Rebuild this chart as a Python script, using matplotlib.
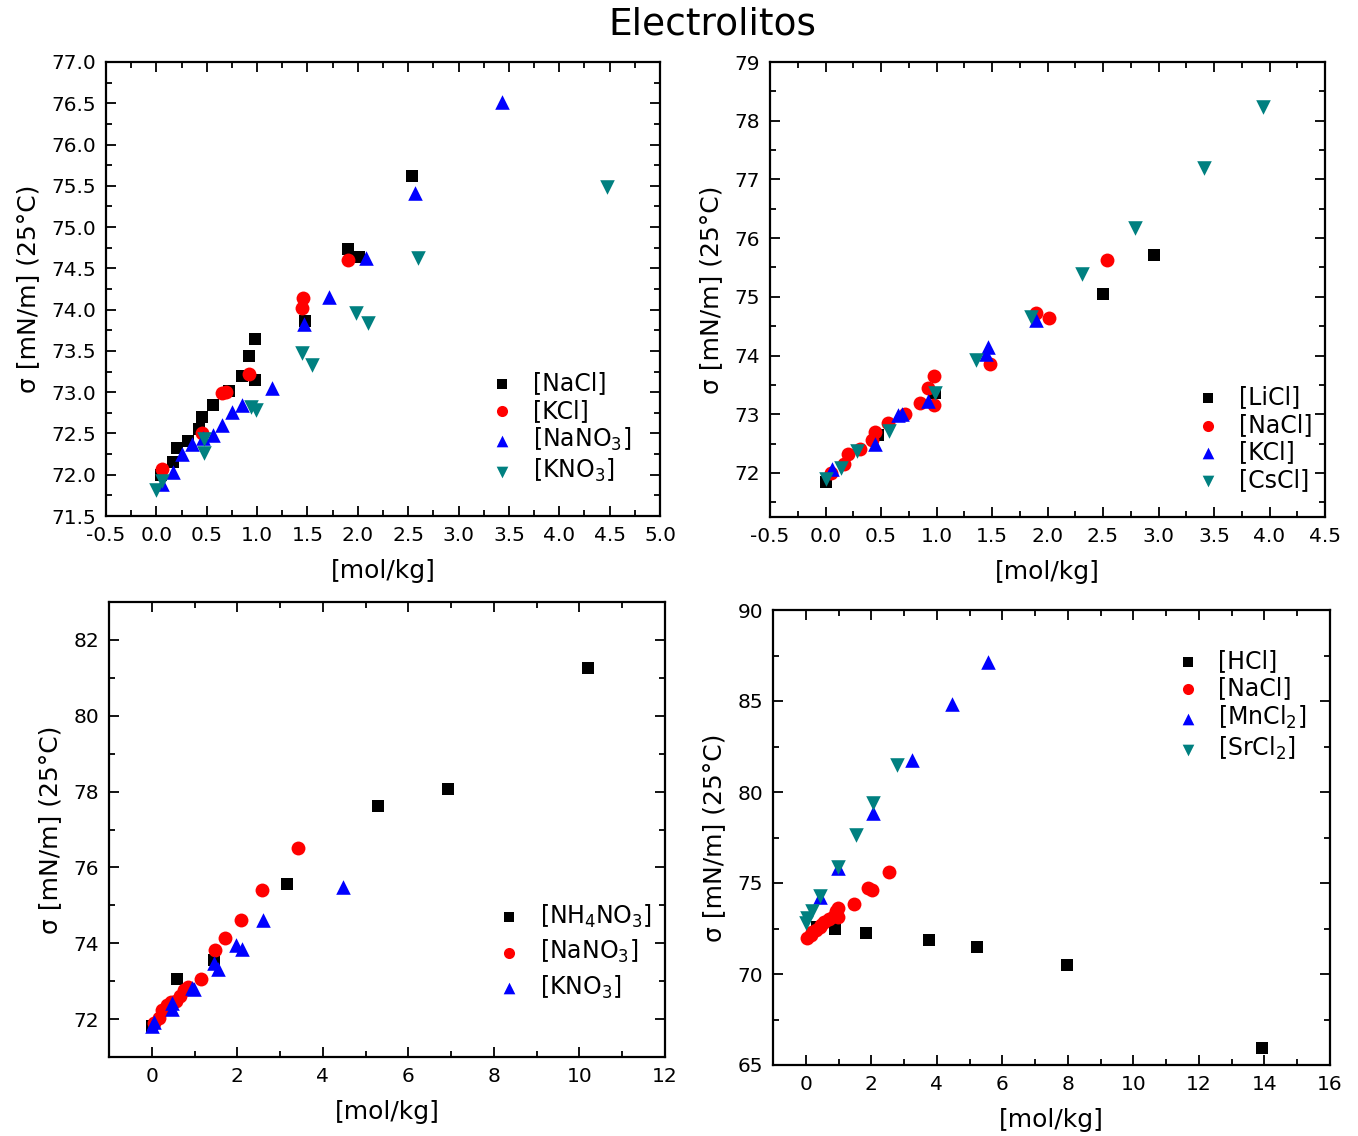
import matplotlib
matplotlib.use("Agg")
import matplotlib.pyplot as plt
from matplotlib.ticker import MultipleLocator

plt.rcParams['font.family'] = ['DejaVu Sans']
plt.rcParams['mathtext.default'] = 'regular'

# ---- data ----
NaCl_x = [0.05, 0.17, 0.20, 0.31, 0.42, 0.45, 0.56, 0.72, 0.85, 0.92, 0.98, 0.98, 1.48, 1.90, 2.01, 2.54]
NaCl_y = [72.00, 72.16, 72.32, 72.41, 72.56, 72.70, 72.85, 73.01, 73.19, 73.44, 73.65, 73.15, 73.86, 74.73, 74.64, 75.62]
KCl_x = [0.06, 0.45, 0.65, 0.69, 0.92, 1.45, 1.46, 1.90]
KCl_y = [72.07, 72.50, 72.99, 73.00, 73.22, 74.02, 74.14, 74.60]
NaNO3_x = [0.06, 0.17, 0.25, 0.35, 0.46, 0.56, 0.65, 0.75, 0.85, 1.15, 1.47, 1.71, 2.08, 2.57, 3.43]
NaNO3_y = [71.89, 72.03, 72.25, 72.37, 72.44, 72.48, 72.60, 72.76, 72.84, 73.05, 73.82, 74.15, 74.62, 75.41, 76.52]
KNO3_x = [0.0, 0.06, 0.47, 0.47, 0.94, 0.99, 1.45, 1.55, 1.98, 2.10, 2.60, 4.47]
KNO3_y = [71.82, 71.92, 72.43, 72.26, 72.82, 72.79, 73.47, 73.33, 73.96, 73.84, 74.62, 75.48]
LiCl_x = [0.0, 0.47, 0.99, 2.50, 2.96]
LiCl_y = [71.85, 72.65, 73.36, 75.05, 75.71]
CsCl_x = [0.0, 0.14, 0.28, 0.57, 0.99, 1.36, 1.85, 2.31, 2.79, 3.41, 3.94]
CsCl_y = [71.90, 72.08, 72.37, 72.71, 73.36, 73.92, 74.66, 75.39, 76.17, 77.19, 78.23]
NH4NO3_x = [0.0, 0.58, 1.45, 3.16, 5.29, 6.92, 10.2]
NH4NO3_y = [71.82, 73.06, 73.56, 75.56, 77.62, 78.07, 81.26]
HCl_x = [0.34, 0.89, 1.83, 3.76, 5.22, 7.97, 13.92]
HCl_y = [72.58, 72.47, 72.25, 71.87, 71.48, 70.49, 65.93]
MnCl2_x = [0.43, 0.98, 2.05, 3.24, 4.46, 5.56]
MnCl2_y = [74.23, 75.80, 78.85, 81.76, 84.84, 87.14]
SrCl2_x = [0.0, 0.05, 0.18, 0.43, 0.98, 1.53, 2.05, 2.78]
SrCl2_y = [72.80, 73.10, 73.45, 74.30, 75.88, 77.64, 79.40, 81.48]

BLACK, RED, BLUE, TEAL = 'black', '#ff0000', '#0000ff', '#008080'
MK = {'s': 80, 'o': 100, '^': 110, 'v': 110}

fig = plt.figure(figsize=(13.58, 11.36), dpi=100)
fig.text(0.5245, 0.978, 'Electrolitos', ha='center', va='center', fontsize=27)


def style(ax, xlim, ylim, xmaj, xmin, ymaj, ymin, xfmt=None, yfmt=None):
    ax.set_xlim(*xlim)
    ax.set_ylim(*ylim)
    ax.xaxis.set_major_locator(MultipleLocator(xmaj))
    ax.xaxis.set_minor_locator(MultipleLocator(xmin))
    ax.yaxis.set_major_locator(MultipleLocator(ymaj))
    ax.yaxis.set_minor_locator(MultipleLocator(ymin))
    if xfmt:
        ax.xaxis.set_major_formatter(plt.FormatStrFormatter(xfmt))
    if yfmt:
        ax.yaxis.set_major_formatter(plt.FormatStrFormatter(yfmt))
    for s in ax.spines.values():
        s.set_linewidth(1.6)
    ax.tick_params(which='both', direction='in', top=True, right=True,
                   labeltop=False, labelright=False, width=1.3, labelsize=14.5, pad=7)
    ax.tick_params(which='major', length=7)
    ax.tick_params(which='minor', length=4)
    ax.set_xlabel('[mol/kg]', fontsize=18, labelpad=10)
    ax.set_ylabel('σ [mN/m] (25°C)', fontsize=18, labelpad=8)


def plot_series(ax, series):
    for x, y, m, c, lab in series:
        ax.scatter(x, y, marker=m, s=MK[m], color=c, label=lab, linewidths=0, zorder=3)


def legend(ax, anchor, spacing=0.15):
    ax.legend(loc='upper left', bbox_to_anchor=anchor, frameon=False, fontsize=17,
              markerscale=0.8, handletextpad=0.3, labelspacing=spacing, borderaxespad=0)


# Panel 1
ax1 = fig.add_axes([106/1358, 1-516/1136, 554/1358, 454/1136])
plot_series(ax1, [(NaCl_x, NaCl_y, 's', BLACK, '[NaCl]'),
                  (KCl_x, KCl_y, 'o', RED, '[KCl]'),
                  (NaNO3_x, NaNO3_y, '^', BLUE, '[NaNO$_3$]'),
                  (KNO3_x, KNO3_y, 'v', TEAL, '[KNO$_3$]')])
style(ax1, (-0.5, 5.0), (71.5, 77.0), 0.5, 0.25, 0.5, 0.25, '%.1f', '%.1f')
legend(ax1, (0.655, 0.34))

# Panel 2
ax2 = fig.add_axes([770/1358, 1-517/1136, 555/1358, 455/1136])
plot_series(ax2, [(LiCl_x, LiCl_y, 's', BLACK, '[LiCl]'),
                  (NaCl_x, NaCl_y, 'o', RED, '[NaCl]'),
                  (KCl_x, KCl_y, '^', BLUE, '[KCl]'),
                  (CsCl_x, CsCl_y, 'v', TEAL, '[CsCl]')])
style(ax2, (-0.5, 4.5), (71.25, 79.0), 0.5, 0.25, 1, 0.5, '%.1f', '%d')
legend(ax2, (0.73, 0.31))

# Panel 3
ax3 = fig.add_axes([109/1358, 1-1057/1136, 556/1358, 455/1136])
plot_series(ax3, [(NH4NO3_x, NH4NO3_y, 's', BLACK, '[NH$_4$NO$_3$]'),
                  (NaNO3_x, NaNO3_y, 'o', RED, '[NaNO$_3$]'),
                  (KNO3_x, KNO3_y, '^', BLUE, '[KNO$_3$]')])
style(ax3, (-1.0, 12.0), (71.0, 83.0), 2, 1, 2, 1, '%d', '%d')
legend(ax3, (0.66, 0.36), spacing=0.35)

# Panel 4
ax4 = fig.add_axes([773/1358, 1-1065/1136, 557/1358, 455/1136])
plot_series(ax4, [(HCl_x, HCl_y, 's', BLACK, '[HCl]'),
                  (NaCl_x, NaCl_y, 'o', RED, '[NaCl]'),
                  (MnCl2_x, MnCl2_y, '^', BLUE, '[MnCl$_2$]'),
                  (SrCl2_x, SrCl2_y, 'v', TEAL, '[SrCl$_2$]')])
style(ax4, (-1.0, 16.0), (65, 90), 2, 1, 5, 2.5, '%d', '%d')
legend(ax4, (0.685, 0.935))

fig.savefig('out.png', dpi=100)
